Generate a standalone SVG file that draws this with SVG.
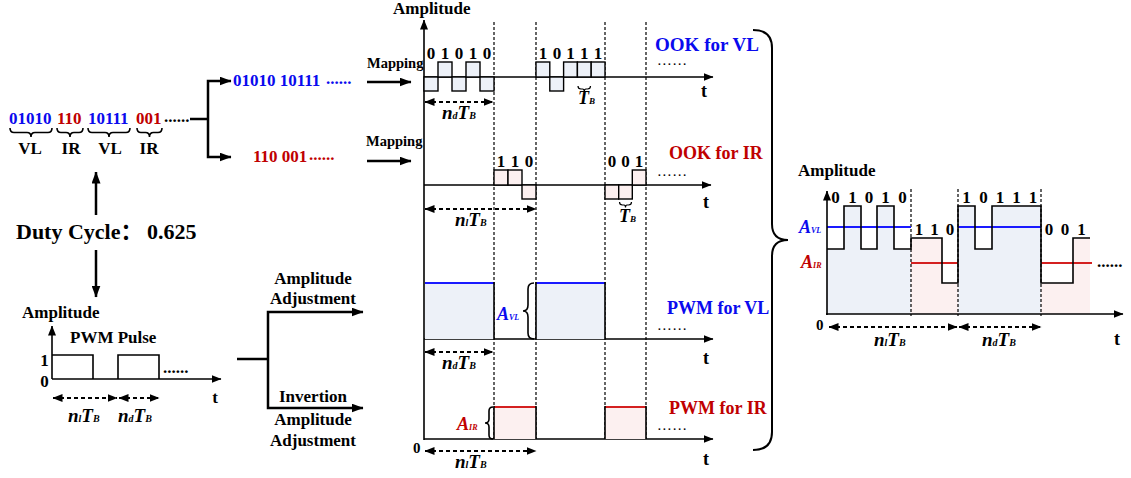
<svg xmlns="http://www.w3.org/2000/svg" width="1131" height="478" viewBox="0 0 1131 478">
<defs>
<marker id="ah" viewBox="0 0 10 8" refX="9.5" refY="4" markerWidth="10" markerHeight="8" markerUnits="userSpaceOnUse" orient="auto-start-reverse"><path d="M0,0 L10,4 L0,8 z" fill="#000"/></marker>
<marker id="ahb" viewBox="0 0 12 9" refX="11.5" refY="4.5" markerWidth="12" markerHeight="9" markerUnits="userSpaceOnUse" orient="auto-start-reverse"><path d="M0,0 L12,4.5 L0,9 z" fill="#000"/></marker>
</defs>
<style>
text{font-family:'Liberation Serif','Noto Sans CJK SC',serif;font-weight:bold;fill:#000}
.blue{fill:#0a0aee}
.red{fill:#c00000}
.it{font-style:italic}
.sub{font-size:10px}
.b17{font-size:17px}
.b18{font-size:18px}
.dots{font-size:11px;letter-spacing:2.3px}
.ax{stroke:#000;stroke-width:1.6;fill:none}
.axa{stroke:#000;stroke-width:1.6;fill:none;marker-end:url(#ah)}
.dash{stroke:#000;stroke-width:1.2;stroke-dasharray:3 2;fill:none}
.dar{stroke:#000;stroke-width:1.8;stroke-dasharray:4 3;fill:none;marker-start:url(#ah);marker-end:url(#ah)}
.bb{fill:#edf1f8;stroke:#000;stroke-width:1.4}
.bp{fill:#fcf0f0;stroke:#000;stroke-width:1.4}
.fb{fill:#edf1f8}
.fp{fill:#fcf0f0}
.conn{stroke:#000;stroke-width:2.5;fill:none}
.conna{stroke:#000;stroke-width:2.5;fill:none;marker-end:url(#ahb)}
.brace{stroke:#000;stroke-width:1.6;fill:none}
.ln{stroke:#000;stroke-width:1.6}
.bl{stroke:#1a1aff;stroke-width:2}
.rl{stroke:#d42020;stroke-width:2}
</style>

<!-- Bit stream -->
<g id="bit-stream">
<text class="b17 blue" x="9" y="124">01010</text>
<text class="b17 red" x="57" y="124">110</text>
<text class="b17 blue" x="88" y="124">10111</text>
<text class="b17 red" x="136" y="124">001</text>
<text class="b17" x="164" y="122">......</text>
<path class="brace" d="M10,128 Q10,132.5 14,132.5 L27,132.5 Q31,132.5 31,137 Q31,132.5 35,132.5 L48,132.5 Q52,132.5 52,128"/>
<path class="brace" d="M57,128 Q57,132.5 61,132.5 L66,132.5 Q70,132.5 70,137 Q70,132.5 74,132.5 L79,132.5 Q83,132.5 83,128"/>
<path class="brace" d="M88,128 Q88,132.5 92,132.5 L105,132.5 Q109,132.5 109,137 Q109,132.5 113,132.5 L126,132.5 Q130,132.5 130,128"/>
<path class="brace" d="M137,128 Q137,132.5 141,132.5 L145.5,132.5 Q149.5,132.5 149.5,137 Q149.5,132.5 153.5,132.5 L158,132.5 Q162,132.5 162,128"/>
<text class="b17" x="30" y="154" text-anchor="middle">VL</text>
<text class="b17" x="71" y="154" text-anchor="middle">IR</text>
<text class="b17" x="110" y="154" text-anchor="middle">VL</text>
<text class="b17" x="149" y="154" text-anchor="middle">IR</text>
</g>

<g id="vl-stream">
<text class="b17 blue" x="233" y="86">01010 10111</text>
<text class="b17 blue" x="326" y="84">......</text>
</g>
<g id="ir-stream">
<text class="b17 red" x="253" y="162">110 001</text>
<text class="b17 red" x="309" y="160">......</text>
</g>

<g id="duty-cycle">
<text x="16" y="239" style="font-size:22px">Duty Cycle：</text>
<text x="147" y="239" style="font-size:22px">0.625</text>
</g>

<!-- PWM pulse -->
<g id="pwm-pulse">
<text class="b17" x="22" y="318">Amplitude</text>
<text class="b17" x="70" y="343">PWM Pulse</text>
<line class="axa" x1="52" y1="379" x2="52" y2="326"/>
<line class="axa" x1="52" y1="379" x2="221" y2="379"/>
<path class="ax" d="M52,355 L93,355 L93,379 M118,379 L118,355 L159,355 L159,379"/>
<text class="b17" x="44.5" y="366" text-anchor="middle">1</text>
<text class="b17" x="44.5" y="387" text-anchor="middle">0</text>
<text class="b17" x="163" y="373">......</text>
<text class="b17" x="215" y="403" text-anchor="middle">t</text>
<line class="dar" x1="53" y1="398" x2="117" y2="398"/>
<line class="dar" x1="119" y1="398" x2="159" y2="398"/>
<text class="it" x="68" y="422" style="font-size:19px">n<tspan class="sub">l</tspan>T<tspan class="sub">B</tspan></text>
<text class="it" x="118" y="422" style="font-size:19px">n<tspan class="sub">d</tspan>T<tspan class="sub">B</tspan></text>
</g>

<g id="amp-adjust">
<text class="b17" x="313" y="284" text-anchor="middle">Amplitude</text>
<text class="b17" x="313" y="304" text-anchor="middle">Adjustment</text>
</g>
<g id="inv-adjust">
<text class="b17" x="313" y="402" text-anchor="middle">Invertion</text>
<text class="b17" x="313" y="425" text-anchor="middle">Amplitude</text>
<text class="b17" x="313" y="446" text-anchor="middle">Adjustment</text>
</g>

<!-- Connectors -->
<g id="connectors">
<path class="conn" d="M190,119 L208,119"/>
<path class="conna" d="M208,119 L208,81 L231,81"/>
<path class="conna" d="M208,119 L208,157 L231,157"/>
<path class="conna" d="M96,215 L96,172"/>
<path class="conna" d="M96,250 L96,297"/>
<path class="conn" d="M237,359 L268,359"/>
<path class="conna" d="M268,359 L268,312 L363,312"/>
<path class="conna" d="M268,359 L268,408 L363,408"/>
<path class="conna" d="M367,82 L411,82"/>
<path class="conna" d="M367,161 L411,161"/>
<path class="brace" style="stroke-width:2" d="M753,30 Q772,30 772,48 L772,224 Q772,240 788,240 Q772,240 772,256 L772,432 Q772,450 753,450"/>
</g>
<text style="font-size:14.5px" x="367" y="68">Mapping</text>
<text style="font-size:14.5px" x="366" y="146">Mapping</text>

<!-- Middle chart -->
<g id="middle-chart">
<text class="b17" x="393" y="14">Amplitude</text>
<g id="grid">
<line class="dash" x1="494" y1="22" x2="494" y2="439"/>
<line class="dash" x1="536" y1="22" x2="536" y2="439"/>
<line class="dash" x1="605" y1="22" x2="605" y2="439"/>
<line class="dash" x1="646" y1="22" x2="646" y2="439"/>
</g>
<line class="axa" x1="424" y1="440" x2="424" y2="20"/>
<text style="font-size:15px" x="413" y="453">0</text>
</g>

<g id="ook-vl">
<line class="axa" x1="424" y1="77" x2="713" y2="77"/>
<rect class="bb" x="424" y="77" width="14" height="14"/>
<rect class="bb" x="438" y="62" width="14" height="15"/>
<rect class="bb" x="452" y="77" width="14" height="14"/>
<rect class="bb" x="466" y="62" width="14" height="15"/>
<rect class="bb" x="480" y="77" width="14" height="14"/>
<rect class="bb" x="536" y="62" width="13.8" height="15"/>
<rect class="bb" x="549.8" y="77" width="13.8" height="14"/>
<rect class="bb" x="563.6" y="62" width="13.8" height="15"/>
<rect class="bb" x="577.4" y="62" width="13.8" height="15"/>
<rect class="bb" x="591.2" y="62" width="13.8" height="15"/>
<g class="b17" text-anchor="middle">
<text x="431" y="59">0</text><text x="445" y="59">1</text><text x="459" y="59">0</text><text x="473" y="59">1</text><text x="487" y="59">0</text>
<text x="543" y="59">1</text><text x="557" y="59">0</text><text x="570.5" y="59">1</text><text x="584.3" y="59">1</text><text x="598" y="59">1</text>
</g>
<path class="brace" style="stroke-width:1.2" d="M578,86 Q578,89 581,89 L582.5,89 Q584.3,89 584.3,91.5 Q584.3,89 586,89 L587.5,89 Q590.5,89 590.5,86"/>
<text class="it" x="578" y="104" style="font-size:18px">T<tspan class="sub" style="font-size:9px">B</tspan></text>
<line class="dar" x1="425" y1="102" x2="493" y2="102"/>
<text class="it" x="442" y="119" style="font-size:19px">n<tspan class="sub">d</tspan>T<tspan class="sub">B</tspan></text>
<text class="b18" x="704" y="97" text-anchor="middle">t</text>
<text class="dots" x="658" y="65">......</text>
<text class="b18 blue" x="655" y="51" textLength="104" lengthAdjust="spacingAndGlyphs">OOK for VL</text>
</g>

<g id="ook-ir">
<line class="axa" x1="424" y1="185" x2="711" y2="185"/>
<rect class="bp" x="494" y="170" width="14" height="15"/>
<rect class="bp" x="508" y="170" width="14" height="15"/>
<rect class="bp" x="522" y="185" width="14" height="14"/>
<rect class="bp" x="605" y="185" width="13.7" height="14"/>
<rect class="bp" x="618.7" y="185" width="13.6" height="14"/>
<rect class="bp" x="632.3" y="170" width="13.7" height="15"/>
<g class="b17" text-anchor="middle">
<text x="501" y="167">1</text><text x="515" y="167">1</text><text x="529" y="167">0</text>
<text x="612" y="167">0</text><text x="625.5" y="167">0</text><text x="639" y="167">1</text>
</g>
<path class="brace" style="stroke-width:1.2" d="M619.5,202 Q619.5,205 622.5,205 L624,205 Q625.5,205 625.5,207.5 Q625.5,205 627,205 L628.5,205 Q631.5,205 631.5,202"/>
<text class="it" x="619" y="222" style="font-size:18px">T<tspan class="sub" style="font-size:9px">B</tspan></text>
<line class="dar" x1="425" y1="209" x2="536" y2="209"/>
<text class="it" x="455" y="226" style="font-size:19px">n<tspan class="sub">l</tspan>T<tspan class="sub">B</tspan></text>
<text class="b18" x="706" y="208" text-anchor="middle">t</text>
<text class="dots" x="658" y="176">......</text>
<text class="b18 red" x="669" y="159">OOK for IR</text>
</g>

<g id="pwm-vl">
<line class="axa" x1="424" y1="339" x2="713" y2="339"/>
<rect class="fb" x="425" y="283" width="69" height="56"/>
<rect class="fb" x="536" y="283" width="69" height="56"/>
<line class="bl" x1="425" y1="283" x2="494" y2="283"/>
<line class="bl" x1="536" y1="283" x2="605" y2="283"/>
<line class="ln" x1="494" y1="282" x2="494" y2="339"/>
<line class="ln" x1="536" y1="282" x2="536" y2="339"/>
<line class="ln" x1="605" y1="282" x2="605" y2="339"/>
<path class="brace" d="M534,283 Q528,283 528,289 L528,305 Q528,311 523,311 Q528,311 528,317 L528,333 Q528,339 534,339"/>
<text class="it blue" x="497" y="320" style="font-size:18px">A<tspan class="sub" style="font-size:8px">VL</tspan></text>
<line class="dar" x1="425" y1="352" x2="493" y2="352"/>
<text class="it" x="442" y="369" style="font-size:19px">n<tspan class="sub">d</tspan>T<tspan class="sub">B</tspan></text>
<text class="b18" x="706" y="364" text-anchor="middle">t</text>
<text class="dots" x="658" y="330">......</text>
<text class="b18 blue" x="667" y="314">PWM for VL</text>
</g>

<g id="pwm-ir">
<line class="axa" x1="424" y1="439" x2="713" y2="439"/>
<rect class="fp" x="494" y="407" width="42" height="32"/>
<rect class="fp" x="605" y="407" width="41" height="32"/>
<line class="rl" x1="494" y1="407" x2="536" y2="407"/>
<line class="rl" x1="605" y1="407" x2="646" y2="407"/>
<line class="ln" x1="494" y1="406" x2="494" y2="439"/>
<line class="ln" x1="536" y1="406" x2="536" y2="439"/>
<line class="ln" x1="605" y1="406" x2="605" y2="439"/>
<line class="ln" x1="646" y1="406" x2="646" y2="439"/>
<path class="brace" d="M493,407 Q489,407 489,411 L489,419 Q489,423 485,423 Q489,423 489,427 L489,435 Q489,439 493,439"/>
<text class="it red" x="457" y="430" style="font-size:18px">A<tspan class="sub" style="font-size:8px">IR</tspan></text>
<line class="dar" x1="425" y1="451" x2="536" y2="451"/>
<text class="it" x="455" y="468" style="font-size:19px">n<tspan class="sub">l</tspan>T<tspan class="sub">B</tspan></text>
<text class="b18" x="706" y="465" text-anchor="middle">t</text>
<text class="dots" x="658" y="430">......</text>
<text class="b18 red" x="669" y="414">PWM for IR</text>
</g>

<!-- Right combined chart -->
<g id="combined">
<text class="b17" x="798" y="176">Amplitude</text>
<path class="fb" d="M827,314 L827,249 L844,249 L844,206 L861,206 L861,249 L877,249 L877,206 L894,206 L894,249 L911,249 L911,314 Z"/>
<path class="fp" d="M911,314 L911,238 L942,238 L942,283 L958,283 L958,314 Z"/>
<path class="fb" d="M958,314 L958,206 L975,206 L975,249 L992,249 L992,206 L1041,206 L1041,314 Z"/>
<path class="fp" d="M1041,314 L1041,283 L1073,283 L1073,238 L1090,238 L1090,314 Z"/>
<line class="dash" x1="911" y1="189" x2="911" y2="316"/>
<line class="dash" x1="958" y1="189" x2="958" y2="316"/>
<line class="dash" x1="1041" y1="189" x2="1041" y2="316"/>
<line class="bl" x1="827" y1="227" x2="911" y2="227"/>
<line class="bl" x1="958" y1="227" x2="1041" y2="227"/>
<line class="rl" x1="911" y1="263" x2="958" y2="263"/>
<line class="rl" x1="1041" y1="263" x2="1092" y2="263"/>
<path class="ax" d="M827,249 L844,249 L844,206 L861,206 L861,249 L877,249 L877,206 L894,206 L894,249 L911,249 L911,238 L942,238 L942,283 L958,283 L958,206 L975,206 L975,249 L992,249 L992,206 L1041,206 L1041,283 L1073,283 L1073,238 L1090,238"/>
<line class="axa" x1="827" y1="315" x2="827" y2="191"/>
<line class="axa" x1="826" y1="314" x2="1123" y2="314"/>
<g class="b17" text-anchor="middle">
<text x="835.5" y="203">0</text><text x="852.5" y="203">1</text><text x="869" y="203">0</text><text x="885.5" y="203">1</text><text x="902.5" y="203">0</text>
<text x="919" y="235">1</text><text x="934.5" y="235">1</text><text x="950" y="235">0</text>
<text x="966.5" y="203">1</text><text x="983.5" y="203">0</text><text x="1000" y="203">1</text><text x="1016.5" y="203">1</text><text x="1033" y="203">1</text>
<text x="1049" y="235">0</text><text x="1065" y="235">0</text><text x="1081.5" y="235">1</text>
</g>
<text class="b17" x="1097" y="267">......</text>
<text class="it blue" x="799" y="233" style="font-size:18px">A<tspan class="sub" style="font-size:8px">VL</tspan></text>
<text class="it red" x="801" y="268" style="font-size:18px">A<tspan class="sub" style="font-size:8px">IR</tspan></text>
<text style="font-size:15px" x="816" y="330">0</text>
<line class="dar" x1="829" y1="327" x2="957" y2="327"/>
<line class="dar" x1="959" y1="327" x2="1041" y2="327"/>
<text class="it" x="874" y="346" style="font-size:19px">n<tspan class="sub">l</tspan>T<tspan class="sub">B</tspan></text>
<text class="it" x="982" y="346" style="font-size:19px">n<tspan class="sub">d</tspan>T<tspan class="sub">B</tspan></text>
<text class="b18" x="1117" y="345" text-anchor="middle">t</text>
</g>
</svg>
